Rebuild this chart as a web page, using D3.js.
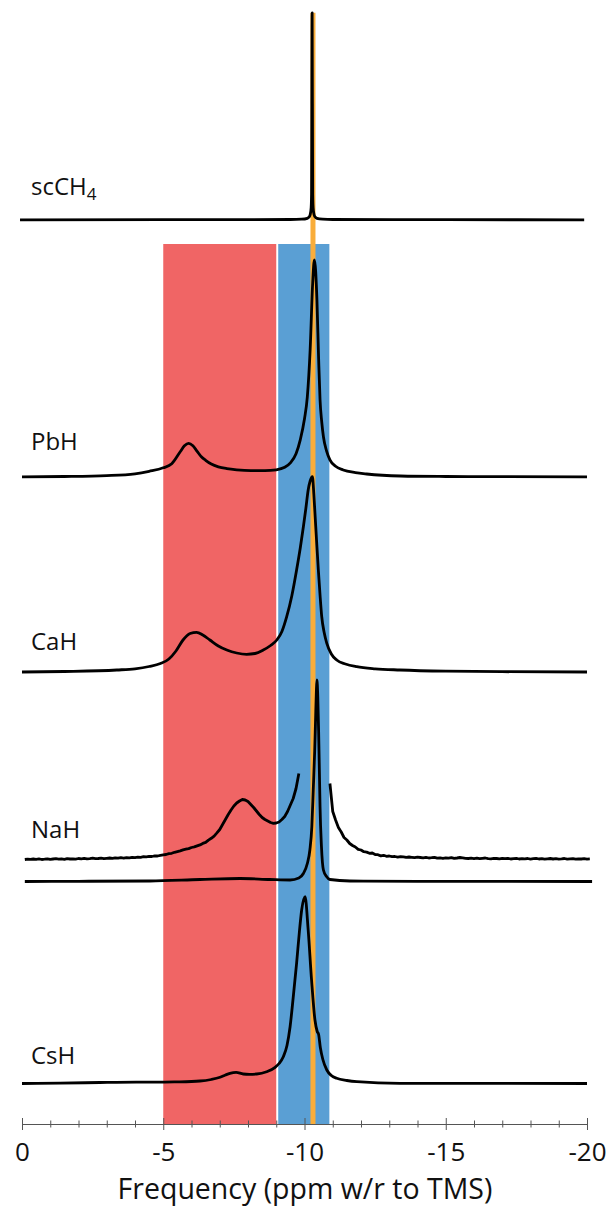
<!DOCTYPE html>
<html>
<head>
<meta charset="utf-8">
<script src="https://cdn.jsdelivr.net/npm/d3@7"></script>
<style>
  html, body { margin: 0; padding: 0; background: #fff; }
  svg { display: block; font-family: "Open Sans", sans-serif; }
</style>
</head>
<body>
<svg id="chart" width="608" height="1216"></svg>
<script>
/* global d3 */
// chemical shift ranges (ppm)
const majorTicks = [0, -5, -10, -15, -20];
const minorTicks = d3.range(0, -21, -1).filter(t => t % 5 !== 0);
const hydrideBand = [-5.0, -9.0];
const interstitialBand = [-9.07, -10.88];
const methaneShift = -10.3;

// scCH4
const ch4Ppm = [0.07, -5, -9.5, -9.9, -10.1, -10.17, -10.2, -10.235, -10.25, -10.27, -10.29, -10.305, -10.34, -10.37, -10.44, -10.64, -11.0, -15, -19.9];
const ch4Int = [0, 0.1, 0.3, 0.6, 1.5, 3, 5, 12, 25, 207, 25, 12, 5, 3, 1.5, 0.6, 0.3, 0.1, 0];

// PbH
const pbhPpm = [0, -1.5, -3, -4, -4.5, -5.0, -5.3, -5.6, -5.75, -5.9, -6.05, -6.2, -6.35, -6.5, -6.7, -6.95, -7.25, -7.6, -8.1, -8.6, -9.0, -9.3, -9.5, -9.7, -9.85, -10.0, -10.1, -10.2, -10.29, -10.35, -10.44, -10.5, -10.55, -10.61, -10.67, -10.78, -10.9, -11.1, -11.37, -11.8, -12.2, -13.4, -15, -17, -20];
const pbhInt = [0, 0.3, 1.2, 3, 5.5, 9, 13, 25, 31, 33.5, 31, 25.5, 20, 16.5, 12.8, 10, 8.2, 7, 6.2, 6.2, 7, 9.5, 14, 23, 37, 58, 80, 127, 194, 217, 177, 118, 77, 55, 40, 26, 17, 10.5, 6.8, 4.2, 2.8, 0.8, 0.3, 0.1, 0];

// CaH
const cahPpm = [0, -1.5, -3.36, -4.0, -4.5, -4.9, -5.2, -5.45, -5.7, -5.95, -6.18, -6.4, -6.65, -6.95, -7.25, -7.6, -7.95, -8.25, -8.54, -8.8, -9.02, -9.2, -9.37, -9.55, -9.72, -9.85, -9.96, -10.05, -10.13, -10.2, -10.28, -10.33, -10.37, -10.43, -10.49, -10.55, -10.61, -10.7, -10.79, -10.95, -11.14, -11.45, -11.85, -12.5, -13.38, -15, -17, -20];
const cahInt = [0, 0.5, 2, 3.2, 5.5, 8.5, 13, 21, 32, 38.5, 39.7, 37, 32, 26, 22, 19, 17.7, 18.5, 22, 26.5, 32, 40.5, 55.3, 76, 102, 124, 145.3, 164, 182, 191, 195.3, 178, 159, 130, 102, 77, 55.3, 39, 28.7, 18, 12, 8, 5.3, 3.2, 2, 0.8, 0.3, 0];

// NaH, vertically expanded trace (sampled every 0.1 ppm), split around the clipped peak
const nahZoomLeftStart = -0.1;
const nahZoomLeftInt = [
  0, 0.4, 0.1, 0.5, 0.2, 0.6, 0.0, 0.3, 0.7, 0.2,
  0.5, 0.8, 0.3, 0.6, 0.2, 0.9, 0.5, 0.7, 0.4, 1.0,
  0.7, 1.1, 0.6, 0.9, 1.3, 0.8, 1.0, 1.4, 0.9, 1.2,
  1.5, 1.1, 1.6, 1.3, 1.8, 1.4, 1.9, 1.7, 2.2, 1.9,
  2.4, 2.2, 2.8, 2.6, 3.1, 3.0, 3.6, 3.5, 4.1, 4.6,
  5.0, 5.8, 6.2, 7.2, 7.9, 8.6, 9.6, 10.3, 10.9, 12.0,
  12.6, 13.6, 14.6, 16.1, 17.1, 19.4, 21.2, 23.4, 26.6, 30,
  35, 40, 45, 49.5, 53.5, 56.5, 58.5, 60, 59.5, 58,
  55, 52, 48.5, 45, 42, 40, 38.5, 37, 36.2, 36.5,
  37.5, 40, 43, 48, 54.5, 61, 71, 86];
const nahZoomRightStart = -10.9;
const nahZoomRightInt = [
  76, 48, 39.5, 32, 27.5, 22, 19.5, 16, 14, 12.5,
  10.2, 9.5, 7.8, 7.4, 6.2, 6.5, 5.0, 4.8, 3.6, 4.2,
  3.2, 3.5, 2.8, 3.0, 2.4, 2.8, 2.6, 2.1, 2.5, 2.2,
  1.8, 2.3, 2.0, 1.6, 2.1, 1.5, 1.8, 2.2, 1.4, 1.7,
  1.2, 1.7, 1.4, 1.9, 1.1, 1.5, 2.0, 1.7, 1.2, 1.0,
  1.3, 0.9, 1.4, 0.8, 1.2, 1.5, 0.9, 0.7, 1.2, 1.0,
  0.6, 1.1, 0.8, 1.2, 0.5, 0.9, 1.1, 0.5, 0.9, 0.7,
  1.0, 0.4, 0.8, 1.1, 0.5, 0.9, 0.3, 0.7, 1.0, 0.5,
  0.8, 0.3, 0.6, 1.0, 0.4, 0.7, 0.9, 0.3, 0.6, 0.5,
  0.8, 0.4, 0.6];

// NaH, full scale
const nahPpm = [-0.1, -2, -4.53, -6.3, -7.72, -8.78, -9.49, -9.8, -9.96, -10.1, -10.19, -10.26, -10.31, -10.36, -10.39, -10.42, -10.44, -10.47, -10.5, -10.53, -10.55, -10.6, -10.67, -10.78, -10.9, -11.61, -14, -20.18];
const nahInt = [0, 0.2, 0.5, 2, 3, 2, 1.5, 3.5, 8, 18, 31.5, 55, 91.5, 130, 160, 190, 201.5, 185, 150, 105, 75, 35, 11.5, 5, 2, 0.5, 0.2, 0];

// CsH
const cshPpm = [0, -1.35, -2.76, -4.04, -4.8, -5.42, -6.3, -6.7, -7.01, -7.2, -7.36, -7.58, -7.83, -8.05, -8.31, -8.66, -8.96, -9.1, -9.25, -9.38, -9.49, -9.6, -9.72, -9.82, -9.9, -10.02, -10.13, -10.25, -10.37, -10.45, -10.5, -10.56, -10.65, -10.79, -10.95, -11.14, -11.5, -11.85, -13.38, -20];
const cshInt = [0, 0.3, 1.0, 1.4, 1.3, 1.6, 2.5, 4, 6.2, 8.5, 10.2, 11.2, 9.5, 9.2, 9.5, 11.8, 16.2, 20, 26.8, 38, 56.8, 86, 120.2, 152, 173.5, 186.8, 153.5, 103.5, 63.5, 52, 49, 36, 24, 13.5, 8, 5.2, 3, 1.8, 0.2, 0];

const zip = (p, v) => p.map((d, i) => [d, v[i]]);
const grid = (start, v) => v.map((d, i) => [start - 0.1 * i, d]);

// stacked traces: offset is the vertical shift of each baseline (a.u.)
const traces = [
  { data: zip(ch4Ppm, ch4Int), offset: 904.2, curve: d3.curveMonotoneX },
  { data: zip(pbhPpm, pbhInt), offset: 647.2, curve: d3.curveMonotoneX },
  { data: zip(cahPpm, cahInt), offset: 452, curve: d3.curveMonotoneX },
  { data: grid(nahZoomLeftStart, nahZoomLeftInt), offset: 264.5, curve: d3.curveLinear },
  { data: grid(nahZoomRightStart, nahZoomRightInt), offset: 264.5, curve: d3.curveLinear },
  { data: zip(nahPpm, nahInt), offset: 242.5, curve: d3.curveMonotoneX },
  { data: zip(cshPpm, cshInt), offset: 40.5, curve: d3.curveMonotoneX },
];
const labels = [
  { name: 'scCH', sub: '4', y: 195 },
  { name: 'PbH', y: 450 },
  { name: 'CaH', y: 650 },
  { name: 'NaH', y: 838 },
  { name: 'CsH', y: 1064 },
];

const svg = d3.select('#chart');
const x = d3.scaleLinear().domain([0, -20]).range([22, 587]);
const y = d3.scaleLinear().domain([0, 1100]).range([1124, 24]);
const bandTop = 244;

svg.append('rect')
  .attr('x', x(hydrideBand[0]))
  .attr('y', bandTop)
  .attr('width', x(hydrideBand[1]) - x(hydrideBand[0]))
  .attr('height', y(0) - bandTop)
  .attr('fill', '#f06565');
svg.append('rect')
  .attr('x', x(interstitialBand[0]))
  .attr('y', bandTop)
  .attr('width', x(interstitialBand[1]) - x(interstitialBand[0]))
  .attr('height', y(0) - bandTop)
  .attr('fill', '#5a9fd4');

svg.append('line')
  .attr('x1', x(methaneShift)).attr('x2', x(methaneShift))
  .attr('y1', y(traces[0].offset + d3.max(ch4Int)))
  .attr('y2', y(0))
  .attr('stroke', '#f9ad3a')
  .attr('stroke-width', 5);

// axis
const gAxis = svg.append('g').attr('transform', `translate(0,${y(0)})`);
gAxis.append('g')
  .call(d3.axisBottom(x).tickValues(minorTicks).tickSize(3.5).tickFormat(''))
  .call(g => g.select('.domain').remove())
  .call(g => g.selectAll('.tick text').remove())
  .call(g => g.selectAll('.tick line').attr('y1', -3.5).attr('stroke', '#555'));
gAxis.append('g')
  .call(d3.axisBottom(x).tickValues(majorTicks).tickSize(6).tickSizeOuter(0)
    .tickFormat(d => (d === 0 ? '0' : `-${Math.abs(d)}`)))
  .call(g => g.select('.domain').attr('stroke', '#555'))
  .call(g => g.selectAll('.tick line').attr('y1', -6).attr('stroke', '#555'))
  .call(g => g.selectAll('.tick text')
    .attr('y', 37).attr('dy', 0)
    .attr('font-family', '"Open Sans", sans-serif')
    .attr('font-size', 26)
    .attr('fill', '#111'));

svg.append('text')
  .attr('x', 305)
  .attr('y', 1199)
  .attr('text-anchor', 'middle')
  .attr('font-size', 28.5)
  .attr('fill', '#111')
  .text('Frequency (ppm w/r to TMS)');

// spectra
traces.forEach((t) => {
  const line = d3.line()
    .x(d => x(d[0]))
    .y(d => y(t.offset + d[1]))
    .curve(t.curve);
  svg.append('path')
    .datum(t.data)
    .attr('fill', 'none')
    .attr('stroke', '#000')
    .attr('stroke-width', 2.8)
    .attr('stroke-linejoin', 'round')
    .attr('d', line);
});

const gLabel = svg.append('g').attr('font-size', 24).attr('fill', '#111');
labels.forEach((l) => {
  const txt = gLabel.append('text').attr('x', 31).attr('y', l.y).text(l.name);
  if (l.sub) {
    txt.append('tspan').attr('dy', 5).attr('font-size', 17).text(l.sub);
  }
});
</script>
</body>
</html>
